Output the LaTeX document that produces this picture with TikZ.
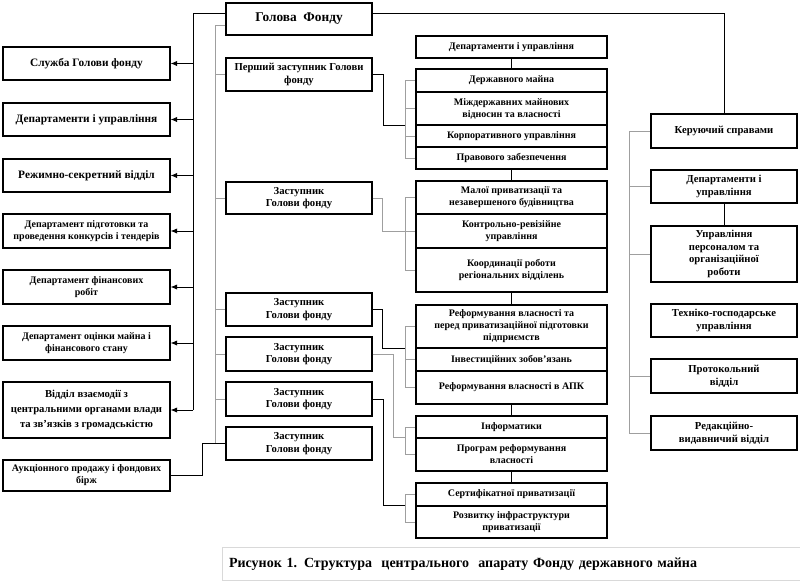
\documentclass[tikz,border=0pt]{standalone}
\usepackage{fontspec}
\setmainfont{Liberation Serif}
\usetikzlibrary{arrows.meta,calc}

\begin{document}
\begin{tikzpicture}[
  x=0.75pt,y=-0.75pt,
  box/.style={
    draw=black,
    line width=0.8pt,
    fill=white,
    align=center,
    inner sep=1pt,
    font=\fontsize{8}{9.5}\selectfont\bfseries
  },
  lbox/.style={box, minimum width=125.25pt, font=\fontsize{8.5}{10.5}\selectfont\bfseries},
  dbox/.style={box, minimum width=109.5pt},
  gbox/.style={box, minimum width=143.25pt, font=\fontsize{7.5}{9}\selectfont\bfseries},
  rbox/.style={box, minimum width=109.5pt},
  link/.style={line width=0.6pt, draw=black},
  glink/.style={line width=0.6pt, draw=gray!75},
  arrow/.style={link, -{Latex[length=5pt,width=4pt]}}
]
\useasboundingbox (0,0) rectangle (800,586);

% head
\node[box, minimum width=109.5pt, minimum height=24pt, font=\fontsize{10}{12}\selectfont\bfseries] (head) at (299,19) {Голова~~Фонду};

% left column
\node[lbox, minimum height=24.75pt] (service) at (86.5,63.5) {Служба Голови фонду};
\node[lbox, minimum height=24.75pt] (depts) at (86.5,119.5) {Департаменти і управління};
\node[lbox, minimum height=24.75pt] (regime) at (86.5,175.5) {Режимно-секретний відділ};
\node[lbox, minimum height=25.5pt, font=\fontsize{7.5}{9}\selectfont\bfseries] (tender) at (86.5,231) {Департамент підготовки та\\проведення конкурсів і тендерів};
\node[lbox, minimum height=25.5pt, font=\fontsize{7.5}{9}\selectfont\bfseries] (finance) at (86.5,287) {Департамент фінансових\\робіт};
\node[lbox, minimum height=25.5pt, font=\fontsize{7.5}{9}\selectfont\bfseries] (valuation) at (86.5,343) {Департамент оцінки майна і\\фінансового стану};
\node[lbox, minimum height=42pt, font=\fontsize{8}{11}\selectfont\bfseries] (liaison) at (86.5,410) {Відділ взаємодії з\\центральними органами влади\\та зв’язків з громадськістю};
\node[lbox, minimum height=23.25pt, font=\fontsize{7.5}{9}\selectfont\bfseries] (auction) at (86.5,475.5) {Аукціонного продажу і фондових\\бірж};

% deputies
\node[dbox, minimum height=24.75pt] (first) at (299,74.5) {Перший заступник Голови\\фонду};
\node[dbox, minimum height=24pt] (dep2) at (299,198) {Заступник\\Голови фонду};
\node[dbox, minimum height=24.75pt] (dep3) at (299,309.5) {Заступник\\Голови фонду};
\node[dbox, minimum height=25.5pt] (dep4) at (299,354) {Заступник\\Голови фонду};
\node[dbox, minimum height=25.5pt] (dep5) at (299,399) {Заступник\\Голови фонду};
\node[dbox, minimum height=24.75pt] (dep6) at (299,443.5) {Заступник\\Голови фонду};

% middle groups
\node[gbox, minimum height=16.5pt] (gdepts) at (511.5,47) {Департаменти і управління};
\node[gbox, minimum height=17.25pt] (stateprop) at (511.5,80.5) {Державного майна};
\node[gbox, minimum height=24.75pt] (interstate) at (511.5,108.5) {Міждержавних майнових\\відносин та власності};
\node[gbox, minimum height=16.5pt] (corporate) at (511.5,136) {Корпоративного управління};
\node[gbox, minimum height=16.5pt] (legal) at (511.5,158) {Правового забезпечення};

\node[gbox, minimum height=24.75pt] (smallpriv) at (511.5,197.5) {Малої приватизації та\\незавершеного будівництва};
\node[gbox, minimum height=25.5pt] (audit) at (511.5,231) {Контрольно-ревізійне\\управління};
\node[gbox, minimum height=33pt] (regional) at (511.5,270) {Координації роботи\\регіональних відділень};

\node[gbox, minimum height=32.25pt] (reform) at (511.5,326.5) {Реформування власності та\\перед приватизаційної підготовки\\підприємств};
\node[gbox, minimum height=17.25pt] (invest) at (511.5,359.5) {Інвестиційних зобов’язань};
\node[gbox, minimum height=24.75pt] (agro) at (511.5,387.5) {Реформування власності в АПК};

\node[gbox, minimum height=16.5pt] (informatics) at (511.5,427) {Інформатики};
\node[gbox, minimum height=24.75pt] (programs) at (511.5,454.5) {Програм реформування\\власності};

\node[gbox, minimum height=17.25pt] (certif) at (511.5,494.5) {Сертифікатної приватизації};
\node[gbox, minimum height=24pt] (infra) at (511.5,522) {Розвитку інфраструктури\\приватизації};

% right column
\node[rbox, minimum height=25.5pt] (affairs) at (724,131) {Керуючий справами};
\node[rbox, minimum height=24.75pt] (rdepts) at (724,186.5) {Департаменти і\\управління};
\node[rbox, minimum height=42pt] (personnel) at (724,254) {Управління\\персоналом та\\організаційної\\роботи};
\node[rbox, minimum height=24.75pt] (technical) at (724,320.5) {Техніко-господарське\\управління};
\node[rbox, minimum height=25.5pt] (protocol) at (724,376) {Протокольний\\відділ};
\node[rbox, minimum height=25.5pt] (editorial) at (724,433) {Редакційно-\\видавничий відділ};

% caption
\node[draw=gray!30, line width=0.6pt, anchor=north west, minimum height=25pt, text width=428pt, align=left, inner sep=5pt, font=\fontsize{10.5}{12}\selectfont\bfseries] (caption) at (222,547) {Рисунок 1. Структура~ центрального~ апарату Фонду державного майна};

% head to left column
\coordinate (tl) at (193,13);
\draw[link] (head.west |- tl) -- (tl) -- (tl |- liaison);
\foreach \n in {service,depts,regime,tender,finance,valuation,liaison}
  \draw[arrow] (tl |- \n) -- (\n);

% head to deputies
\coordinate (tg) at (215,25);
\draw[glink] (head.west |- tg) -- (tg) |- (dep6);
\foreach \n in {first,dep2,dep3,dep4,dep5}
  \draw[glink] (tg |- \n) -- (\n);

% head to right column
\draw[link] (head.east |- tl) -| (affairs);
\draw[link] (rdepts) -- (personnel);
\coordinate (br) at (629,0);
\draw[glink] (br |- affairs) -- (br |- editorial);
\foreach \n in {affairs,rdepts,personnel,protocol,editorial}
  \draw[glink] (br |- \n) -- (\n);

% middle column
\draw[link] (gdepts) -- (stateprop);
\draw[link] (legal) -- (smallpriv);
\draw[link] (regional) -- (reform);
\draw[link] (agro) -- (informatics);
\draw[link] (programs) -- (certif);

\coordinate (bx) at (405,0);
\draw[glink] (bx |- stateprop) -- (bx |- legal);
\draw[glink] (bx |- smallpriv) -- (bx |- regional);
\draw[glink] (bx |- reform) -- (bx |- agro);
\draw[glink] (bx |- informatics) -- (bx |- programs);
\draw[glink] (bx |- certif) -- (bx |- infra);
\foreach \n in {stateprop,interstate,corporate,legal,smallpriv,audit,regional,reform,invest,agro,informatics,programs,certif,infra}
  \draw[glink] (bx |- \n) -- (\n);

% deputies to groups
\draw[link] (first) -- ++(84,0) |- (bx |- interstate.south);
\draw[glink] (dep2) -- ++(83,0) |- (bx |- audit);
\draw[link] (dep3) -- ++(83,0) |- (bx |- reform.south);
\draw[glink] (dep4) -- ++(94,0) |- (bx |- programs.north);
\draw[link] (dep5) -- ++(84,0) |- (bx |- infra.north);
\draw[link] (dep6.west) -- ++(-23,0) |- (auction);
\end{tikzpicture}
\end{document}
